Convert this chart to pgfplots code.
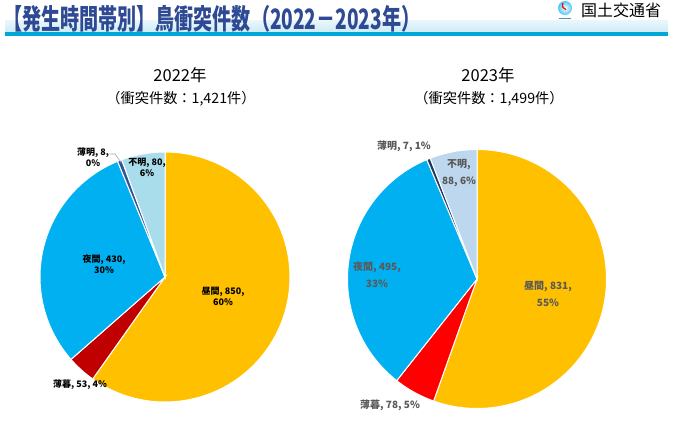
\documentclass[border=0pt]{standalone}
\usepackage{pgfplots}
\pgfplotsset{compat=1.18}
\usepackage{pgfplotstable}
\usepackage{fontspec}
\setmainfont{Noto Sans CJK JP}
\newfontfamily\jp{Noto Sans CJK JP}
\usepackage{graphicx}

\definecolor{cday}{HTML}{FFC000}
\definecolor{cduskA}{HTML}{C00000}
\definecolor{cduskB}{HTML}{FF0000}
\definecolor{cnight}{HTML}{00B0F0}
\definecolor{cdawnA}{HTML}{2F5597}
\definecolor{cdawnB}{HTML}{1F3864}
\definecolor{cunkA}{HTML}{A9DDEC}
\definecolor{cunkB}{HTML}{BDD7EE}
\definecolor{ctitle}{HTML}{2E4A94}
\definecolor{cband}{HTML}{CDEBF7}
\definecolor{cbandtop}{HTML}{EAF7FC}
\definecolor{cline}{HTML}{00A8D6}
\definecolor{clab}{HTML}{595959}

% 2022
\pgfplotstableread{
period value
day 850
dusk 53
night 430
dawn 8
unknown 80
}\dataA
% 2023
\pgfplotstableread{
period value
day 831
dusk 78
night 495
dawn 7
unknown 88
}\dataB

\newcommand\computeangles[2]{%
  \def\tot{0}%
  \pgfplotsforeachungrouped \i in {0,...,4}{%
    \pgfplotstablegetelem{\i}{value}\of{#1}%
    \pgfmathsetmacro\tot{\tot+\pgfplotsretval}}%
  \def\cum{0}%
  \expandafter\xdef\csname ang#2-0\endcsname{90}%
  \pgfplotsforeachungrouped \i in {0,...,4}{%
    \pgfplotstablegetelem{\i}{value}\of{#1}%
    \pgfmathsetmacro\cum{\cum+\pgfplotsretval}%
    \pgfmathtruncatemacro\j{\i+1}%
    \pgfmathsetmacro\a{90-360*(\cum/\tot)}%
    \expandafter\xdef\csname ang#2-\j\endcsname{\a}}%
}
\computeangles{\dataA}{A}
\computeangles{\dataB}{B}

\newcommand\slice[3]{%
  \pgfmathtruncatemacro\jj{#2+1}%
  \edef\tmp{\noexpand\addplot[fill=#3, draw=white, line width=1pt,
    domain=\csname ang#1-\jj\endcsname:\csname ang#1-#2\endcsname,
    samples=120, variable=\noexpand\t]
    ({cos(\noexpand\t)}, {sin(\noexpand\t)}) -- (axis cs:0,0) -- cycle;}%
  \tmp}

\begin{document}
\begin{tikzpicture}[x=1pt,y=1pt]
\path[use as bounding box, fill=white] (0,0) rectangle (673,-432);

% header
\shade[top color=cbandtop, bottom color=cband] (5,-20) rectangle (668,-32);
\fill[cline] (5,-32) rectangle (668,-35.5);
\node[anchor=west, inner sep=0pt, text=ctitle] at (3,-18.5)
  {\resizebox{417pt}{1.22\height}{\fontsize{23}{23}\selectfont\bfseries 【発生時間帯別】鳥衝突件数（2022－2023年）}};
% logo
\shade[inner color=white, outer color=cnight!70] (565,-8) circle (7);
\draw[red, line width=1.2pt] (563,-3) arc (150:260:4.5);
\fill[cnight!40!gray] (559,-17.5) rectangle (571,-18.8);
\node[anchor=west, inner sep=0pt] at (581,-10) {\fontsize{16}{16}\selectfont 国土交通省};

% year titles
\node[inner sep=0pt] at (180,-75) {\fontsize{16.5}{17}\selectfont 2022年};
\node[inner sep=0pt] at (181,-99) {\fontsize{14.2}{15}\selectfont （衝突件数：1,421件）};
\node[inner sep=0pt] at (488,-75) {\fontsize{16.5}{17}\selectfont 2023年};
\node[inner sep=0pt] at (489,-99) {\fontsize{14.2}{15}\selectfont （衝突件数：1,499件）};

% 2022 pie
\begin{axis}[hide axis, scale only axis, width=250pt, height=250pt,
  xmin=-1, xmax=1, ymin=-1, ymax=1, clip=false,
  at={(165pt,-277pt)}, anchor=center]
  \slice{A}{0}{cday}
  \slice{A}{1}{cduskA}
  \slice{A}{2}{cnight}
  \slice{A}{3}{cdawnA}
  \slice{A}{4}{cunkA}
\end{axis}

% 2023 pie
\begin{axis}[hide axis, scale only axis, width=259pt, height=259pt,
  xmin=-1, xmax=1, ymin=-1, ymax=1, clip=false,
  at={(477pt,-279pt)}, anchor=center]
  \slice{B}{0}{cday}
  \slice{B}{1}{cduskB}
  \slice{B}{2}{cnight}
  \slice{B}{3}{cdawnB}
  \slice{B}{4}{cunkB}
\end{axis}

% 2022 labels
\begin{scope}[every node/.style={inner sep=0pt, font=\fontsize{9}{11}\selectfont\bfseries, align=center}]
  \node at (223,-296) {昼間, 850,\\60\%};
  \node at (104,-264) {夜間, 430,\\30\%};
  \node at (80,-385) {薄暮, 53, 4\%};
  \node at (93,-157) {薄明, 8,\\0\%};
  \node at (147,-167) {不明, 80,\\6\%};
\end{scope}
\draw[gray!70, line width=0.6pt] (109.5,-154) -- (115,-154) -- (121.5,-163);

% 2023 labels
\begin{scope}[every node/.style={inner sep=0pt, text=clab, font=\fontsize{10}{17}\selectfont\bfseries, align=center}]
  \node at (548,-294) {昼間, 831,\\55\%};
  \node at (377,-275) {夜間, 495,\\33\%};
  \node at (390,-405) {薄暮, 78, 5\%};
  \node at (404,-146) {薄明, 7, 1\%};
  \node at (459,-173) {不明,\\88, 6\%};
\end{scope}
\end{tikzpicture}
\end{document}
